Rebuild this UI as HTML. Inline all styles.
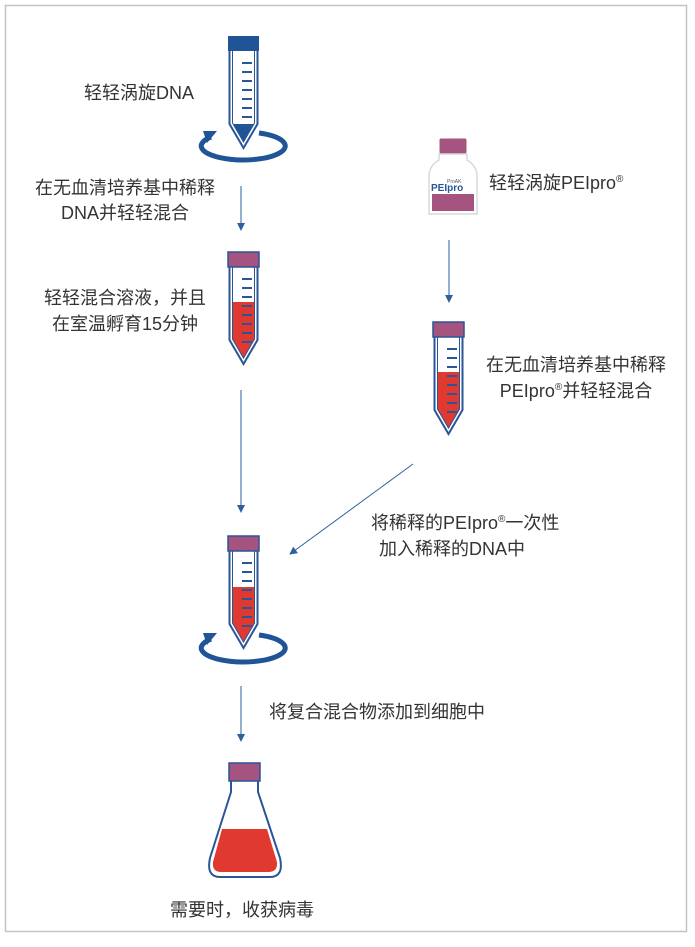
<!DOCTYPE html>
<html><head><meta charset="utf-8"><style>
html,body{margin:0;padding:0;background:#fff;}
svg{display:block;}
text{font-family:"Liberation Sans","Noto Sans CJK SC",sans-serif;font-size:18px;fill:#333;}
</style></head><body>
<svg width="695" height="947" viewBox="0 0 695 947" xmlns="http://www.w3.org/2000/svg">
<defs>
<marker id="ah" markerWidth="8" markerHeight="8" refX="7" refY="4" orient="auto" markerUnits="userSpaceOnUse">
<path d="M0,0 L8,4 L0,8 z" fill="#2f5f9e"/>
</marker>
<g id="marks" stroke="#2a5597" stroke-width="2">
<line x1="14" y1="27" x2="24" y2="27"/><line x1="14" y1="36" x2="24" y2="36"/>
<line x1="14" y1="45" x2="24" y2="45"/><line x1="14" y1="54" x2="24" y2="54"/>
<line x1="14" y1="63" x2="24" y2="63"/><line x1="14" y1="72" x2="24" y2="72"/>
<line x1="14" y1="81" x2="24" y2="81"/><line x1="14" y1="90" x2="24" y2="90"/>
</g>
<path id="tubebody" d="M1.5,15 L1.5,88 L15.5,112 L29.5,88 L29.5,15" fill="#fff" stroke="#2a5597" stroke-width="2"/>
<path id="tubeinner" d="M4.5,15 L4.5,87 L15.5,106 L26.5,87 L26.5,15" fill="none" stroke="#2a5597" stroke-width="1"/>
</defs>
<rect x="5.5" y="5.5" width="681" height="926" fill="none" stroke="#c4c2c4" stroke-width="1.5"/>

<g transform="translate(228,36)">
<use href="#tubebody"/><use href="#tubeinner"/>
<path d="M5,88 L26,88 L15.5,106 Z" fill="#1f5496"/>
<use href="#marks"/>
<rect x="0" y="0" width="31" height="15" fill="#1f5496"/>
</g>
<g transform="translate(241,143)">
<path d="M-30,-6 A42,14 0 1 0 18,-10" fill="none" stroke="#1f5496" stroke-width="5"/>
<path d="M-38,-12 L-24,-12 L-34,0 z" fill="#1f5496"/>
</g>

<g transform="translate(228,252)">
<use href="#tubebody"/>
<path d="M4,50 L4,87 L15.5,107 L27,87 L27,50 Z" fill="#e03a30"/>
<use href="#tubeinner"/>
<use href="#marks"/>
<rect x="0" y="0" width="31" height="15" fill="#a55480" stroke="#2a5597" stroke-width="1.5"/>
</g>

<g transform="translate(427,136)">
<rect x="12" y="2" width="28" height="16" rx="2" fill="#a55480" stroke="#fff"/>
<path d="M12,18 L12,24 Q2,30 2,40 L2,78 L50,78 L50,40 Q50,30 40,24 L40,18 Z" fill="#fff" stroke="#d8d8d8" stroke-width="1.5"/>
<text x="20" y="47" style="font-size:5px;fill:#557">ProAK</text>
<text x="4" y="55" style="font-size:10px;font-weight:bold;fill:#2a5597">PEIpro</text>
<rect x="5" y="58" width="42" height="17" fill="#a55480"/>
</g>

<g transform="translate(433,322)">
<use href="#tubebody"/>
<path d="M4,50 L4,87 L15.5,107 L27,87 L27,50 Z" fill="#e03a30"/>
<use href="#tubeinner"/>
<use href="#marks"/>
<rect x="0" y="0" width="31" height="15" fill="#a55480" stroke="#2a5597" stroke-width="1.5"/>
</g>

<g transform="translate(228,536)">
<use href="#tubebody"/>
<path d="M4,51 L4,87 L15.5,107 L27,87 L27,51 Z" fill="#e03a30"/>
<use href="#tubeinner"/>
<use href="#marks"/>
<rect x="0" y="0" width="31" height="15" fill="#a55480" stroke="#2a5597" stroke-width="1.5"/>
</g>
<g transform="translate(241,645)">
<path d="M-30,-6 A42,14 0 1 0 18,-10" fill="none" stroke="#1f5496" stroke-width="5"/>
<path d="M-38,-12 L-24,-12 L-34,0 z" fill="#1f5496"/>
</g>

<g>
<path d="M231,781 L231,792 L210,858 Q206,877 220,877 L270,877 Q284,877 280,858 L258,792 L258,781" fill="#fff" stroke="#2a5597" stroke-width="2"/>
<path d="M222,829 L267,829 L277,862 Q278,872 268,872 L221,872 Q212,872 213,862 Z" fill="#e03a30"/>
<rect x="229" y="763" width="31" height="18" fill="#a55480" stroke="#2a5597" stroke-width="1.5"/>
</g>

<g stroke="#2f5f9e" stroke-width="1" fill="none">
<line x1="241" y1="186" x2="241" y2="230" marker-end="url(#ah)"/>
<line x1="241" y1="390" x2="241" y2="512" marker-end="url(#ah)"/>
<line x1="449" y1="240" x2="449" y2="302" marker-end="url(#ah)"/>
<line x1="413" y1="464" x2="290" y2="554" marker-end="url(#ah)"/>
<line x1="241" y1="686" x2="241" y2="741" marker-end="url(#ah)"/>
</g>

<text x="84" y="99">轻轻涡旋DNA</text>
<text x="125" y="194" text-anchor="middle">在无血清培养基中稀释</text>
<text x="125" y="219" text-anchor="middle">DNA并轻轻混合</text>
<text x="125" y="304" text-anchor="middle">轻轻混合溶液，并且</text>
<text x="125" y="330" text-anchor="middle">在室温孵育15分钟</text>
<text x="489" y="189">轻轻涡旋PEIpro<tspan style="font-size:10px" dy="-7">®</tspan></text>
<text x="576" y="371" text-anchor="middle">在无血清培养基中稀释</text>
<text x="576" y="397" text-anchor="middle">PEIpro<tspan style="font-size:10px" dy="-7">®</tspan><tspan dy="7">并轻轻混合</tspan></text>
<text x="371" y="529">将稀释的PEIpro<tspan style="font-size:10px" dy="-7">®</tspan><tspan dy="7">一次性</tspan></text>
<text x="379" y="555">加入稀释的DNA中</text>
<text x="269" y="718">将复合混合物添加到细胞中</text>
<text x="170" y="916">需要时，收获病毒</text>
</svg>
</body></html>
